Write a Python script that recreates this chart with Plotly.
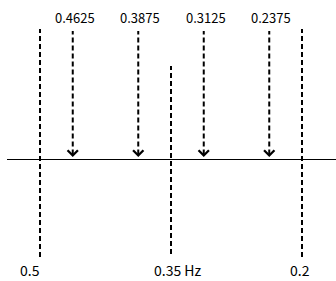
import plotly.graph_objects as go

# Data
band_edges = [0.5, 0.2]          # long dashed boundaries
center_freq = [0.35]             # centre line
arrow_freqs = [0.4625, 0.3875, 0.3125, 0.2375]
arrow_labels = ["0.4625", "0.3875", "0.3125", "0.2375"]
bottom_labels = ["0.5", "0.35 Hz", "0.2"]
bottom_freqs = [0.5, 0.35, 0.2]

FONT = "Noto Sans CJK KR, DejaVu Sans, sans-serif"
dash = "5px,3px"

fig = go.Figure()

for f in band_edges:
    fig.add_trace(go.Scatter(x=[f, f], y=[-97.5, 130.5], mode="lines",
                             line=dict(color="black", width=2, dash=dash),
                             hoverinfo="skip", showlegend=False))
for f in center_freq:
    fig.add_trace(go.Scatter(x=[f, f], y=[-94.5, 93.5], mode="lines",
                             line=dict(color="black", width=2, dash=dash),
                             hoverinfo="skip", showlegend=False))
for f in arrow_freqs:
    fig.add_trace(go.Scatter(x=[f, f], y=[5, 128.5], mode="lines",
                             line=dict(color="black", width=2, dash=dash),
                             hoverinfo="skip", showlegend=False))

fig.add_shape(type="line", xref="paper", yref="y", x0=7/336, x1=1, y0=0, y1=0,
              line=dict(color="black", width=1))

annotations = []
for f in arrow_freqs:
    annotations.append(dict(x=f, y=2.5, xref="x", yref="y", text="", showarrow=True,
                            ax=0, ay=-5, arrowhead=4, arrowsize=1.0, arrowwidth=2,
                            arrowcolor="black"))
for f, t in zip(arrow_freqs, arrow_labels):
    annotations.append(dict(x=f, y=142.5, xref="x", yref="y", text=t, showarrow=False,
                            font=dict(family=FONT, size=13, color="black"),
                            xshift=2))
shifts = [-10, 7, -2]
for f, t, s in zip(bottom_freqs, bottom_labels, shifts):
    annotations.append(dict(x=f, y=-110.5, xref="x", yref="y", text=t, showarrow=False,
                            font=dict(family=FONT, size=14, color="black"),
                            xshift=s))

fig.update_layout(
    width=336, height=281,
    margin=dict(l=0, r=0, t=0, b=0),
    paper_bgcolor="white", plot_bgcolor="white",
    xaxis=dict(range=[0.5 + 40/873.33, 0.2 - 34/873.33], visible=False, fixedrange=True),
    yaxis=dict(range=[-121.5, 159.5], visible=False, fixedrange=True),
    annotations=annotations,
    showlegend=False,
)

fig.write_html("out.html", config={"displayModeBar": False},
               post_script="document.body.style.margin='0';document.body.style.overflow='hidden';")
